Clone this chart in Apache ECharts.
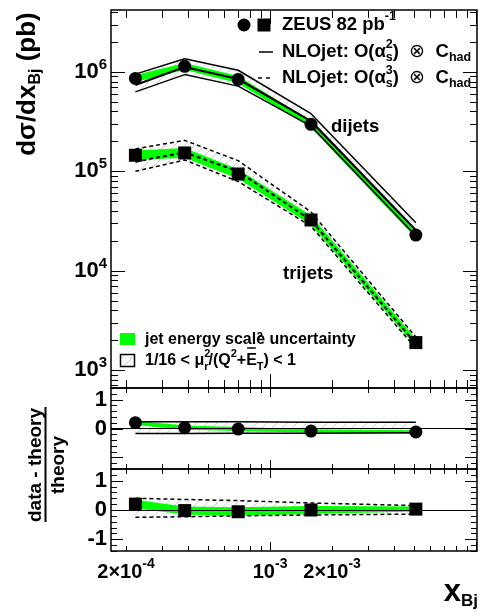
<!DOCTYPE html>
<html>
<head>
<meta charset="utf-8">
<script src="https://cdn.jsdelivr.net/npm/echarts@6.0.0/dist/echarts.min.js"></script>
<style>
  html, body { margin: 0; padding: 0; background: #fff; }
  #chart { width: 483px; height: 612px; }
</style>
</head>
<body>
<div id="chart"></div>
<script>
// x_Bj bin centres
var xBins = [2.22e-4, 3.85e-4, 7.0e-4, 1.58e-3, 5.1e-3];

// dijets, cross section (pb)
var diData     = [8.6e5, 1.14e6, 8.4e5, 2.97e5, 2.28e4];
var diTheory   = [7.4e5, 1.12e6, 8.5e5, 3.2e5, 2.55e4];
var diScaleHi  = [9.5e5, 1.36e6, 1.04e6, 3.8e5, 3.04e4];
var diScaleLo  = [6.3e5, 9.4e5, 7.2e5, 2.85e5, 2.25e4];
var diJesHi    = [9.3e5, 1.23e6, 9.1e5, 3.2e5, 2.45e4];
var diJesLo    = [7.9e5, 1.05e6, 7.7e5, 2.75e5, 2.12e4];

// trijets, cross section (pb)
var triData    = [1.45e5, 1.53e5, 9.4e4, 3.24e4, 1.89e3];
var triTheory  = [1.25e5, 1.55e5, 1.0e5, 3.22e4, 1.84e3];
var triScaleHi = [1.68e5, 2.05e5, 1.28e5, 3.9e4, 2.15e3];
var triScaleLo = [1.0e5, 1.3e5, 7.9e4, 2.8e4, 1.65e3];
var triJesHi   = [1.62e5, 1.72e5, 1.05e5, 3.6e4, 2.05e3];
var triJesLo   = [1.3e5, 1.37e5, 8.4e4, 2.9e4, 1.72e3];

// (data - theory) / theory, dijets
var rDiData    = [0.2, 0.03, -0.02, -0.09, -0.12];
var rDiJesHi   = [0.27, 0.1, 0.05, -0.03, -0.06];
var rDiJesLo   = [0.12, -0.04, -0.09, -0.15, -0.18];
var rDiScaleHi = [0.23, 0.23, 0.23, 0.22, 0.22];
var rDiScaleLo = [-0.17, -0.17, -0.16, -0.16, -0.15];

// (data - theory) / theory, trijets
var rTriData    = [0.2, -0.02, -0.06, 0.0, 0.03];
var rTriJesHi   = [0.35, 0.12, 0.09, 0.14, 0.12];
var rTriJesLo   = [0.06, -0.15, -0.2, -0.14, -0.05];
var rTriScaleHi = [0.4, 0.36, 0.32, 0.24, 0.15];
var rTriScaleLo = [-0.25, -0.23, -0.2, -0.17, -0.14];

// axis ranges and ticks
var XMIN = 1.69e-4, XMAX = 1.01e-2;
var YMIN = 660, YMAX = 4.2e6;
var RMIN = -1.4, RMAX = 1.4;
var xLabelTicks = [2e-4, 1e-3, 2e-3];
var xLabelBase = ['2\u00d710', '10', '2\u00d710'];
var xLabelExp = ['-4', '-3', '-3'];
var xMajorTicks = [1e-3, 1e-2];
var yMajorTicks = [1e3, 1e4, 1e5, 1e6];
var rMajorTicks = [-1, 0, 1];
var mults = [2, 3, 4, 5, 6, 7, 8, 9];

var xMinorTicks = [], yMinorTicks = [], rMinorTicks = [];
[1e-4, 1e-3].forEach(function (d) { mults.forEach(function (m) { xMinorTicks.push(m * d); }); });
[1e2, 1e3, 1e4, 1e5, 1e6].forEach(function (d) { mults.forEach(function (m) { yMinorTicks.push(m * d); }); });
for (var k = -7; k <= 7; k++) if (k % 5 !== 0) rMinorTicks.push(k * 0.2);

var FONT = '"Liberation Sans", Arial, Helvetica, sans-serif';
var GREEN = '#00ff00';

var meas = document.createElement('canvas').getContext('2d');
function textW(t, size, weight) {
  meas.font = (weight || 'bold') + ' ' + size + 'px ' + FONT;
  return meas.measureText(t).width;
}

function hatchCanvas() {
  var c = document.createElement('canvas');
  c.width = 10; c.height = 10;
  var g = c.getContext('2d');
  g.strokeStyle = '#b4b4b4';
  g.lineWidth = 0.7;
  g.beginPath();
  g.moveTo(-1, 11); g.lineTo(11, -1);
  g.stroke();
  return c;
}
var HATCH = { image: hatchCanvas(), repeat: 'repeat' };

function txt(x, y, t, size, align, weight) {
  return {
    type: 'text', x: x, y: y, silent: true,
    style: {
      text: t, fill: '#000', fontSize: size, fontWeight: weight || 'bold', fontFamily: FONT,
      textAlign: align || 'left', align: align || 'left',
      textVerticalAlign: 'middle', verticalAlign: 'middle'
    }
  };
}

// pieces: [text, size, dy, hold, weight]
function row(x, y, pieces) {
  var out = [];
  pieces.forEach(function (p) {
    out.push(txt(x, y + (p[2] || 0), p[0], p[1], 'left', p[4]));
    if (!p[3]) x += textW(p[0], p[1], p[4]);
  });
  return out;
}
function rowWidth(pieces) {
  var w = 0;
  pieces.forEach(function (p) { if (!p[3]) w += textW(p[0], p[1], p[4]); });
  return w;
}

function band(gi, lo, hi, fill, z) {
  return {
    type: 'custom', xAxisIndex: gi, yAxisIndex: gi, z: z, silent: true,
    data: xBins.map(function (x, i) { return [x, lo[i], hi[i]]; }),
    renderItem: function (params, api) {
      if (params.dataIndex !== 0) return;
      var pts = [], i;
      for (i = 0; i < xBins.length; i++) pts.push(api.coord([xBins[i], hi[i]]));
      for (i = xBins.length - 1; i >= 0; i--) pts.push(api.coord([xBins[i], lo[i]]));
      return { type: 'polygon', shape: { points: pts }, style: { fill: fill, stroke: null } };
    }
  };
}

function curve(gi, vals, dash, width, z) {
  return {
    type: 'line', xAxisIndex: gi, yAxisIndex: gi, z: z, silent: true,
    symbol: 'none', animation: false,
    data: xBins.map(function (x, i) { return [x, vals[i]]; }),
    lineStyle: { color: '#000', width: width, type: dash ? [4, 3] : 'solid' }
  };
}

function points(gi, vals, symbol, size) {
  return {
    type: 'scatter', xAxisIndex: gi, yAxisIndex: gi, z: 6, silent: true,
    symbol: symbol, symbolSize: size,
    data: xBins.map(function (x, i) { return [x, vals[i]]; }),
    itemStyle: { color: '#000', opacity: 1 }
  };
}

var RICH_X = {
  b: { fontSize: 20, fontWeight: 'bold', fontFamily: FONT, color: '#000' },
  s: { fontSize: 14, fontWeight: 'bold', fontFamily: FONT, color: '#000', padding: [0, 0, 15, 0] }
};

function ticks(gi, yRef, yMaj, yMin, lx, ly, ymin, ymax, withLabels) {
  return {
    type: 'custom', xAxisIndex: gi, yAxisIndex: gi, z: 20, silent: true,
    data: [[XMAX, yRef]],
    renderItem: function (params, api) {
      var cs = params.coordSys, kids = [];
      var top = cs.y, bot = cs.y + cs.height, lft = cs.x, rgt = cs.x + cs.width;
      function seg(x1, y1, x2, y2) {
        kids.push({ type: 'line', shape: { x1: x1, y1: y1, x2: x2, y2: y2 }, style: { stroke: '#000', lineWidth: 1 } });
      }
      function xt(list, len) {
        list.forEach(function (v) {
          if (v < XMIN || v > XMAX) return;
          var p = Math.round(api.coord([v, yRef])[0]) + 0.5;
          seg(p, top, p, top + len); seg(p, bot, p, bot - len);
        });
      }
      function yt(list, len) {
        list.forEach(function (v) {
          if (v < ymin - 1e-9 || v > ymax + 1e-9) return;
          var p = Math.round(api.coord([XMAX, v])[1]) + 0.5;
          seg(lft, p, lft + len, p); seg(rgt, p, rgt - len, p);
        });
      }
      xt(xMajorTicks, lx[0]); xt(xMinorTicks, lx[1]);
      yt(yMaj, ly[0]); yt(yMin, ly[1]);
      if (withLabels) {
        xLabelTicks.forEach(function (v, i) {
          var p = api.coord([v, yRef])[0];
          kids.push({
            type: 'text', x: p, y: bot + 21,
            style: {
              text: '{b|' + xLabelBase[i] + '}{s|' + xLabelExp[i] + '}', rich: RICH_X,
              textAlign: 'center', align: 'center', textVerticalAlign: 'middle', verticalAlign: 'middle'
            }
          });
        });
      }
      return { type: 'group', children: kids };
    }
  };
}

function xAxisCfg(gi) {
  return {
    type: 'log', logBase: 10, gridIndex: gi, min: XMIN, max: XMAX,
    axisLine: { show: false }, axisTick: { show: false }, axisLabel: { show: false }, splitLine: { show: false }
  };
}
function ratioAxis(gi, showNeg) {
  return {
    type: 'value', gridIndex: gi, min: RMIN, max: RMAX, interval: 0.2,
    axisLine: { show: false }, axisTick: { show: false }, splitLine: { show: false },
    axisLabel: {
      margin: 4, color: '#000', fontSize: 22, fontWeight: 'bold', fontFamily: FONT,
      formatter: function (v) {
        var r = Math.round(v);
        if (Math.abs(v - r) > 1e-6) return '';
        if (r === -1 && !showNeg) return '';
        return String(r);
      }
    }
  };
}

var L = 18.5, S = 12.5;
var legRow2 = [['NLOjet: O(', L], ['\u03b1', L], ['2', S, -7, true], ['s', S, 6], [')  ', L], ['\u2297', L, 0, false, 'normal'], ['  C', L], ['had', S, 6]];
var legRow3 = [['NLOjet: O(', L], ['\u03b1', L], ['3', S, -7, true], ['s', S, 6], [')  ', L], ['\u2297', L, 0, false, 'normal'], ['  C', L], ['had', S, 6]];
var yTitle = [['d\u03c3/dx', 26], ['Bj', 16, 8], [' (pb)', 26]];
var rTitleTop = [['data - theory', 19]];
var rTitleBot = [['theory', 19]];
var xTitle = [['x', 31], ['Bj', 17, 9]];
var scaleRow = [['1/16 < \u03bc', 16], ['2', 11, -7, true], ['r', 11, 6], ['/(Q', 16], ['2', 11, -7], ['+', 16], ['E', 16], ['2', 11, -24, true], ['T', 11, 6], [') < 1', 16]];

var graphics = [];
graphics.push({ type: 'circle', shape: { cx: 244, cy: 25, r: 6.5 }, style: { fill: '#000' } });
graphics.push({ type: 'rect', shape: { x: 257.5, y: 18.5, width: 13, height: 13 }, style: { fill: '#000' } });
graphics = graphics.concat(row(282, 25, [['ZEUS 82 pb', L], ['-1', S, -8]]));
graphics.push({ type: 'line', shape: { x1: 259, y1: 52, x2: 273, y2: 52 }, style: { stroke: '#000', lineWidth: 1.5 } });
graphics = graphics.concat(row(282, 52, legRow2));
graphics.push({ type: 'line', shape: { x1: 258, y1: 78, x2: 273, y2: 78 }, style: { stroke: '#000', lineWidth: 1.5, lineDash: [4, 4] } });
graphics = graphics.concat(row(282, 78, legRow3));
graphics.push(txt(331, 126.5, 'dijets', 18.5));
graphics.push(txt(283, 273.5, 'trijets', 18.5));

graphics.push({ type: 'rect', shape: { x: 120, y: 333, width: 15, height: 12 }, style: { fill: GREEN } });
graphics.push(txt(145, 339.5, 'jet energy scale uncertainty', 16));
graphics.push({ type: 'rect', shape: { x: 120.5, y: 354.5, width: 14, height: 12 }, style: { fill: HATCH, stroke: '#000', lineWidth: 1.5 } });
graphics = graphics.concat(row(145, 361, scaleRow));
// overline on E
var eX = 145 + textW('1/16 < \u03bc', 16) + textW('r', 11) + textW('/(Q', 16) + textW('2', 11) + textW('+', 16);
graphics.push({ type: 'line', shape: { x1: eX + 1, y1: 348, x2: eX + textW('E', 16) - 1, y2: 348 }, style: { stroke: '#000', lineWidth: 1.5 } });

graphics.push({ type: 'group', x: 28, y: 84, rotation: Math.PI / 2, children: row(-rowWidth(yTitle) / 2, 0, yTitle) });
graphics.push({ type: 'group', x: 36, y: 465, rotation: Math.PI / 2, children: row(-rowWidth(rTitleTop) / 2, 0, rTitleTop) });
graphics.push({ type: 'line', shape: { x1: 45.5, y1: 407, x2: 45.5, y2: 522 }, style: { stroke: '#000', lineWidth: 2 } });
graphics.push({ type: 'group', x: 59, y: 465, rotation: Math.PI / 2, children: row(-rowWidth(rTitleBot) / 2, 0, rTitleBot) });
graphics = graphics.concat(row(478 - rowWidth(xTitle), 592, xTitle));

var option = {
  animation: false,
  backgroundColor: '#fff',
  grid: [
    { left: 111, top: 10, width: 366, height: 378, show: true, borderColor: '#000', borderWidth: 1.5, outerBoundsMode: 'none' },
    { left: 111, top: 388, width: 366, height: 81, show: true, borderColor: '#000', borderWidth: 1.5, outerBoundsMode: 'none' },
    { left: 111, top: 469, width: 366, height: 82, show: true, borderColor: '#000', borderWidth: 1.5, outerBoundsMode: 'none' }
  ],
  xAxis: [xAxisCfg(0), xAxisCfg(1), xAxisCfg(2)],
  yAxis: [
    {
      type: 'log', logBase: 10, gridIndex: 0, min: YMIN, max: YMAX,
      axisLine: { show: false }, axisTick: { show: false }, splitLine: { show: false },
      axisLabel: {
        margin: 4, color: '#000',
        formatter: function (v) {
          var e = Math.log10(v), r = Math.round(e);
          if (Math.abs(e - r) > 0.01) return '';
          return '{b|10}{s|' + r + '}';
        },
        rich: {
          b: { fontSize: 22, fontWeight: 'bold', fontFamily: FONT, color: '#000' },
          s: { fontSize: 15, fontWeight: 'bold', fontFamily: FONT, color: '#000', padding: [0, 0, 14, 0] }
        }
      }
    },
    ratioAxis(1, false),
    ratioAxis(2, true)
  ],
  graphic: { elements: graphics },
  series: [
    band(0, diScaleLo, diScaleHi, HATCH, 1),
    band(0, triScaleLo, triScaleHi, HATCH, 1),
    band(0, diJesLo, diJesHi, GREEN, 2),
    band(0, triJesLo, triJesHi, GREEN, 2),
    curve(0, diScaleHi, false, 1.5, 3),
    curve(0, diScaleLo, false, 1.5, 3),
    curve(0, diTheory, false, 2.2, 3),
    curve(0, triScaleHi, true, 1.5, 3),
    curve(0, triScaleLo, true, 1.5, 3),
    curve(0, triTheory, true, 2, 3),
    points(0, diData, 'circle', 13),
    points(0, triData, 'rect', 13),
    ticks(0, 1e4, yMajorTicks, yMinorTicks, [14, 8], [14, 7], YMIN, YMAX, false),

    band(1, rDiScaleLo, rDiScaleHi, HATCH, 1),
    band(1, rDiJesLo, rDiJesHi, GREEN, 2),
    (function () {
      var s = curve(1, rDiScaleHi, false, 1.5, 3);
      s.markLine = { silent: true, symbol: 'none', label: { show: false }, animation: false,
        lineStyle: { color: '#000', width: 1, type: 'solid' }, data: [{ yAxis: 0 }] };
      return s;
    })(),
    curve(1, rDiScaleLo, false, 1.5, 3),
    points(1, rDiData, 'circle', 13),
    ticks(1, 0, rMajorTicks, rMinorTicks, [9, 5], [12, 6], RMIN, RMAX, false),

    band(2, rTriScaleLo, rTriScaleHi, HATCH, 1),
    band(2, rTriJesLo, rTriJesHi, GREEN, 2),
    (function () {
      var s = curve(2, rTriScaleHi, true, 1.5, 3);
      s.markLine = { silent: true, symbol: 'none', label: { show: false }, animation: false,
        lineStyle: { color: '#000', width: 1, type: 'solid' }, data: [{ yAxis: 0 }] };
      return s;
    })(),
    curve(2, rTriScaleLo, true, 1.5, 3),
    points(2, rTriData, 'rect', 13),
    ticks(2, 0, rMajorTicks, rMinorTicks, [9, 5], [12, 6], RMIN, RMAX, true)
  ]
};

var chart = echarts.init(document.getElementById('chart'), null, { renderer: 'canvas' });
chart.setOption(option);
</script>
</body>
</html>
